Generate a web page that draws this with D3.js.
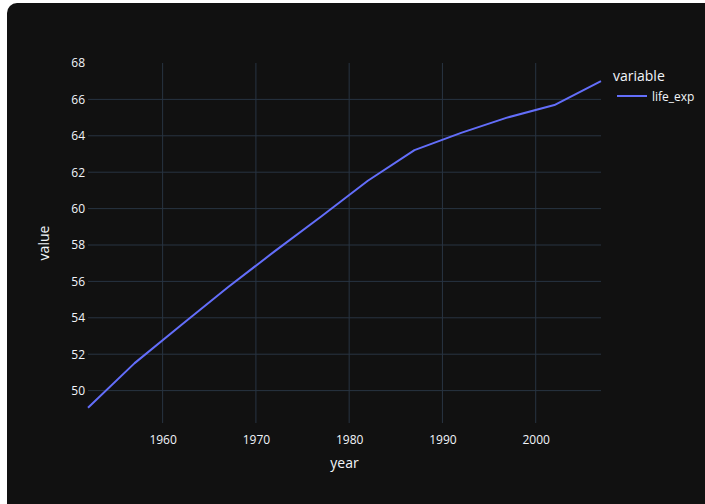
<!DOCTYPE html>
<html>
<head>
<meta charset="utf-8">
<script src="https://cdn.jsdelivr.net/npm/d3@7"></script>
<style>
  html, body { margin: 0; padding: 0; background: #ffffff; }
  svg { display: block; font-family: "Open Sans", sans-serif; }
</style>
</head>
<body>
<svg id="chart" width="705" height="504"></svg>
<script>
// gapminder: mean life expectancy per year
const years = [1952, 1957, 1962, 1967, 1972, 1977, 1982, 1987, 1992, 1997, 2002, 2007];
const lifeExp = [49.06, 51.51, 53.61, 55.68, 57.65, 59.57, 61.53, 63.21, 64.16, 65.01, 65.69, 67.01];
const xTicks = [1960, 1970, 1980, 1990, 2000];
const yTicks = [50, 52, 54, 56, 58, 60, 62, 64, 66, 68];
const seriesName = 'life_exp';

const svg = d3.select('#chart');
const margin = { top: 63, right: 104, bottom: 81, left: 88 };
const width = 705 - margin.left - margin.right;
const height = 504 - margin.top - margin.bottom;

// dark paper
svg.append('rect')
  .attr('x', 7).attr('y', 3)
  .attr('width', 710).attr('height', 520)
  .attr('rx', 10)
  .attr('fill', '#111111');

const x = d3.scaleLinear().domain([1952, 2007]).range([0, width]);
const y = d3.scaleLinear().domain([48.22, 68.0]).range([height, 0]);

const g = svg.append('g').attr('transform', `translate(${margin.left},${margin.top})`);

// grid (plotly leaves out a gridline that sits on the plot edge)
g.append('g').selectAll('line').data(xTicks).join('line')
  .attr('x1', d => x(d)).attr('x2', d => x(d))
  .attr('y1', 0).attr('y2', height)
  .attr('stroke', '#283442').attr('stroke-width', 1);
g.append('g').selectAll('line').data(yTicks.filter(d => y(d) > 1)).join('line')
  .attr('x1', 0).attr('x2', width)
  .attr('y1', d => y(d)).attr('y2', d => y(d))
  .attr('stroke', '#283442').attr('stroke-width', 1);

// axes (labels only)
const xAxis = g.append('g')
  .attr('transform', `translate(0,${height})`)
  .call(d3.axisBottom(x).tickValues(xTicks).tickFormat(d3.format('d')).tickSize(0).tickPadding(12));
const yAxis = g.append('g')
  .call(d3.axisLeft(y).tickValues(yTicks).tickSize(0).tickPadding(3));
[xAxis, yAxis].forEach(a => {
  a.select('.domain').remove();
  a.selectAll('text')
    .attr('fill', '#f2f5fa')
    .style('font-family', '"Open Sans", sans-serif')
    .style('font-size', '12px');
});

// line
g.append('path')
  .datum(years.map((d, i) => [d, lifeExp[i]]))
  .attr('fill', 'none')
  .attr('stroke', '#636efa')
  .attr('stroke-width', 2)
  .attr('stroke-linejoin', 'round')
  .attr('d', d3.line().x(d => x(d[0])).y(d => y(d[1])));

// axis titles
svg.append('text')
  .attr('x', margin.left + width / 2).attr('y', 468)
  .attr('text-anchor', 'middle')
  .attr('fill', '#f2f5fa').style('font-size', '14px')
  .text('year');
svg.append('text')
  .attr('transform', `translate(49,${margin.top + height / 2}) rotate(-90)`)
  .attr('text-anchor', 'middle')
  .attr('fill', '#f2f5fa').style('font-size', '14px')
  .text('value');

// legend
const legend = svg.append('g').attr('transform', 'translate(613,0)');
legend.append('text')
  .attr('x', 0).attr('y', 81)
  .attr('fill', '#f2f5fa').style('font-size', '14px')
  .text('variable');
legend.append('line')
  .attr('x1', 4).attr('x2', 34).attr('y1', 96).attr('y2', 96)
  .attr('stroke', '#636efa').attr('stroke-width', 2);
legend.append('text')
  .attr('x', 39).attr('y', 100.5)
  .attr('fill', '#f2f5fa').style('font-size', '12px')
  .text(seriesName);
</script>
</body>
</html>
